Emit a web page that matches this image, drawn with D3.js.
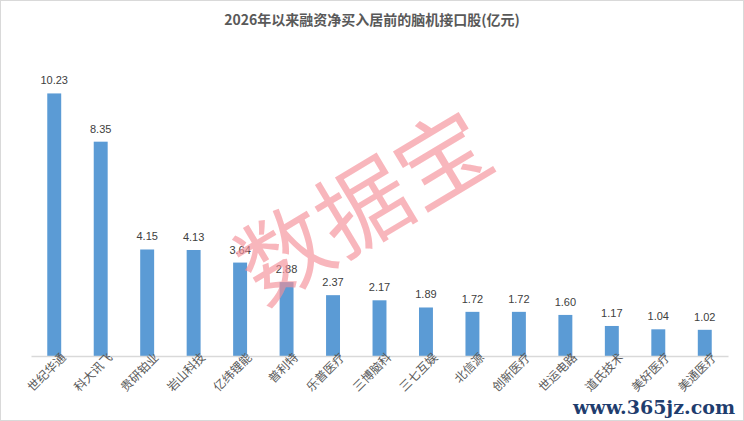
<!DOCTYPE html>
<html>
<head>
<meta charset="utf-8">
<script src="https://cdn.jsdelivr.net/npm/d3@7"></script>
<style>
  body { margin: 0; background: #fff; }
  svg { display: block; font-family: "Noto Sans CJK SC", "Noto Sans", sans-serif; }
</style>
</head>
<body>
<script>
// data
var stocks = ["世纪华通", "科大讯飞", "贵研铂业", "岩山科技", "亿纬锂能", "普利特", "乐普医疗", "三博脑科",
              "三七互娱", "北信源", "创新医疗", "世运电路", "道氏技术", "美好医疗", "美通医疗"];
var netBuy = [10.23, 8.35, 4.15, 4.13, 3.64, 2.88, 2.37, 2.17, 1.89, 1.72, 1.72, 1.60, 1.17, 1.04, 1.02];
var chartTitle = "2026年以来融资净买入居前的脑机接口股(亿元)";

var width = 744, height = 421;
var margin = {top: 48, right: 16, bottom: 65, left: 31};

var svg = d3.select("body").append("svg")
    .attr("width", width)
    .attr("height", height);

// outer frame
svg.append("rect")
    .attr("x", 0.5).attr("y", 0.5)
    .attr("width", width - 1).attr("height", height - 1)
    .attr("fill", "#fff")
    .attr("stroke", "#d9d9d9");

svg.append("text")
    .attr("x", width / 2)
    .attr("y", 25)
    .attr("text-anchor", "middle")
    .attr("font-size", 14)
    .attr("font-weight", "bold")
    .attr("fill", "#595959")
    .text(chartTitle);

var x = d3.scaleBand()
    .domain(stocks)
    .range([margin.left, width - margin.right])
    .paddingInner(0.7)
    .paddingOuter(0.35);

var y = d3.scaleLinear()
    .domain([0, 12])
    .range([height - margin.bottom, margin.top]);

var data = stocks.map(function(s, i){ return {name: s, value: netBuy[i]}; });

svg.selectAll(".bar")
    .data(data)
    .enter()
    .append("rect")
    .attr("class", "bar")
    .attr("x", function(d){ return x(d.name); })
    .attr("width", x.bandwidth())
    .attr("y", function(d){ return y(d.value); })
    .attr("height", function(d){ return y(0) - y(d.value); })
    .attr("fill", "#5b9bd5");

// value labels
svg.selectAll(".val")
    .data(data)
    .enter()
    .append("text")
    .attr("class", "val")
    .attr("x", function(d){ return x(d.name) + x.bandwidth() / 2; })
    .attr("y", function(d){ return y(d.value) - 9; })
    .attr("text-anchor", "middle")
    .attr("font-size", 11)
    .attr("font-family", "Liberation Sans, Arial, sans-serif")
    .attr("fill", "#404040")
    .text(function(d){ return d.value.toFixed(2); });

// x axis
var xAxis = d3.axisBottom(x).tickSize(0).tickPadding(8);
var axis = svg.append("g")
    .attr("transform", "translate(0," + y(0) + ")")
    .call(xAxis);
axis.select(".domain").attr("stroke", "#d9d9d9").attr("stroke-width", 1.5);
axis.selectAll("text")
    .attr("font-size", 12)
    .attr("fill", "#595959")
    .attr("font-family", "Noto Sans CJK SC, sans-serif")
    .attr("text-anchor", "end")
    .attr("dx", "0.6em")
    .attr("dy", "0.2em")
    .attr("transform", "rotate(-45)");

// watermarks
svg.append("text")
    .attr("transform", "translate(368,214) rotate(-31)")
    .attr("text-anchor", "middle")
    .attr("dominant-baseline", "middle")
    .attr("font-size", 92)
    .attr("font-weight", 400)
    .attr("fill", "#f48f98")
    .attr("fill-opacity", 0.65)
    .text("数据宝");

svg.append("text")
    .attr("x", 735)
    .attr("y", 414)
    .attr("text-anchor", "end")
    .attr("font-size", 19)
    .attr("font-weight", "bold")
    .attr("font-family", "DejaVu Serif, serif")
    .attr("fill", "#1f3d6e")
    .text("www.365jz.com");
</script>
</body>
</html>
